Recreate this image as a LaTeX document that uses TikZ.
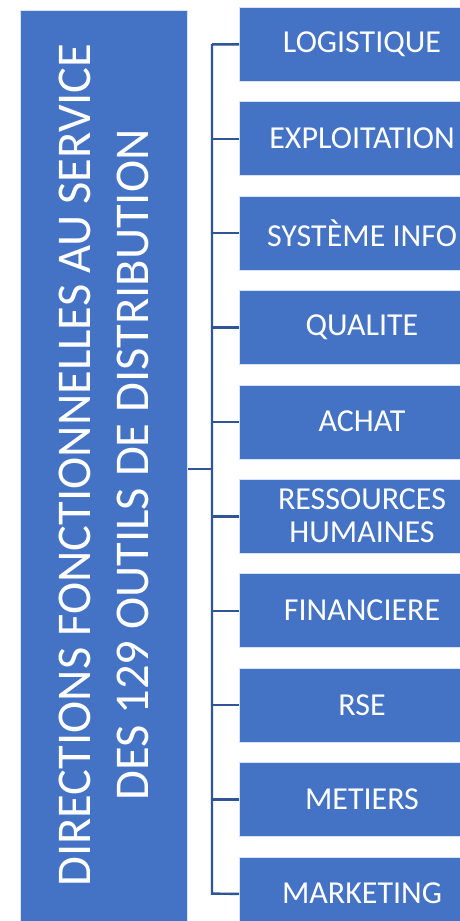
\documentclass[tikz,border=0pt]{standalone}
\usepackage{fontspec}
\setmainfont{Carlito}
\definecolor{boxblue}{HTML}{4472C4}
\definecolor{linkblue}{HTML}{2F5597}
\begin{document}
\begin{tikzpicture}[x=1pt,y=-1pt,
  box/.style={fill=boxblue,draw=white!80!boxblue,line width=0.6pt,inner sep=0pt},
  itemtext/.style={text=white,font=\fontsize{32}{34}\selectfont,align=center},
  link/.style={draw=linkblue,line width=2.4pt}]
\useasboundingbox (0,0) rectangle (459,921);
\fill[white] (0,0) rectangle (459,921);
% left box
\node[box,minimum width=167pt,minimum height=940pt,anchor=north west] (main) at (20,10) {};
\node[text=white,rotate=90,align=center,font=\fontsize{48.5}{58}\selectfont] (maintext) at (104,465)
  {DIRECTIONS FONCTIONNELLES AU SERVICE\\DES 129 OUTILS DE DISTRIBUTION};
% right boxes
\foreach \i/\t [count=\k from 0] in {l0/LOGISTIQUE,l1/EXPLOITATION,l2/SYSTÈME INFO,l3/QUALITE,l4/ACHAT,l5/{RESSOURCES\\[-1pt]HUMAINES},l6/FINANCIERE,l7/RSE,l8/METIERS,l9/MARKETING}{
  \node[box,minimum width=246pt,minimum height=74pt,anchor=north west] (\i) at (239,{7+\k*94.4}) {};
  \node[itemtext] (\i t) at (362,{44+\k*94.4}) {\t};
}
% connectors
\coordinate (top) at (212,44);
\coordinate (bot) at (212,893.6);
\coordinate (mid) at (212,469);
\draw[link] (main.east |- mid) -- (mid);
\draw[link,line cap=butt] (l0.west) -| (top) -- (bot) -- (l9.west);
\foreach \i in {l1,l2,l3,l4,l5,l6,l7,l8}{
  \draw[link] (\i.west) -- (\i.west -| top);
}
\end{tikzpicture}
\end{document}
